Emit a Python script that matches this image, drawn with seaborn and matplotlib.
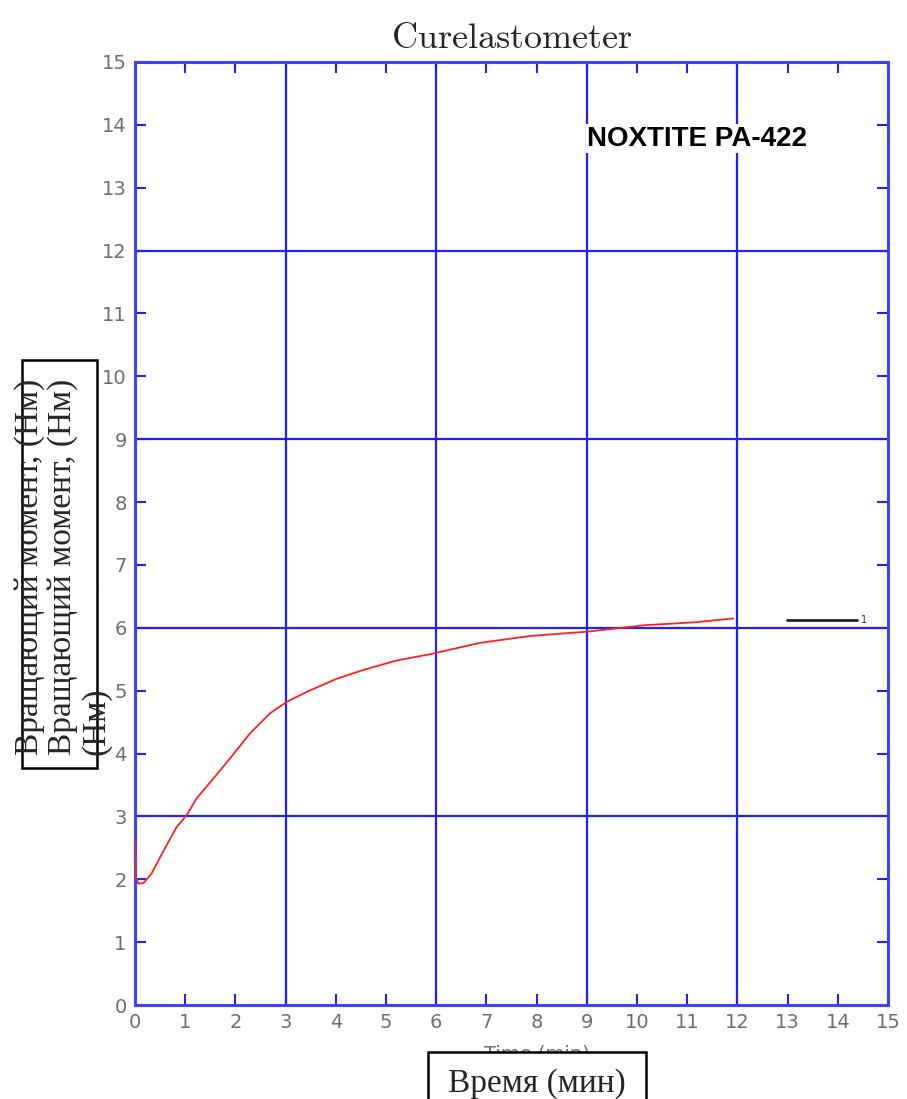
import matplotlib
matplotlib.use("Agg")
import matplotlib.pyplot as plt
from matplotlib.lines import Line2D
from matplotlib.patches import Rectangle
import seaborn as sns
import pandas as pd

# curve (time in min, torque in Nm)
time_min = [0.0, 0.02, 0.07, 0.17, 0.33, 0.56, 0.83, 1.03, 1.23, 1.56, 1.89,
            2.29, 2.69, 3.02, 3.42, 4.02, 4.55, 5.21, 5.88, 6.87, 7.87, 9.03,
            10.13, 11.19, 11.92]
torque_nm = [2.65, 2.03, 1.93, 1.94, 2.09, 2.44, 2.83, 3.02, 3.29, 3.60, 3.92,
             4.32, 4.64, 4.82, 4.98, 5.19, 5.33, 5.48, 5.58, 5.76, 5.87, 5.94,
             6.04, 6.09, 6.15]
ticks = list(range(0, 16))
grid_ticks = [0, 3, 6, 9, 12, 15]

df = pd.DataFrame({'time': time_min, 'torque': torque_nm})

sns.set_style('white')
plt.rcParams['mathtext.fontset'] = 'cm'

fig = plt.figure(figsize=(9.07, 10.99), dpi=100)
ax = fig.add_axes([0.1488, 0.0855, 0.8302, 0.8581])

blue = '#1f1fff'
for v in grid_ticks[1:-1]:
    ax.axvline(v, color=blue, lw=1.6, zorder=1)
    ax.axhline(v, color=blue, lw=1.6, zorder=1)

sns.lineplot(data=df, x='time', y='torque', color='#ff2020', lw=1.3,
             sort=False, estimator=None, ax=ax, zorder=3)

ax.set_xlim(0, 15)
ax.set_ylim(0, 15)
ax.set_xticks(ticks)
ax.set_yticks(ticks)
ax.tick_params(direction='in', length=8, width=1.5, color=blue,
               bottom=True, left=True, top=True, right=True,
               labelsize=14, labelcolor='#6e6e6e', pad=6)
for s in ax.spines.values():
    s.set_color('#4040ff')
    s.set_linewidth(2.2)
ax.set_xlabel('')
ax.set_ylabel('')

ax.set_title(r'$\mathrm{Curelastometer}$', fontsize=26, pad=10)

ax.text(11.2, 13.78, 'NOXTITE PA-422', fontsize=20, fontweight='bold',
        family='Liberation Sans', color='black', ha='center', va='center',
        zorder=4, bbox=dict(facecolor='white', edgecolor='none', pad=1))

ax.legend(handles=[Line2D([], [], color='#222222', lw=2)], labels=['1'],
          loc='center left', bbox_to_anchor=(0.866, 0.408), frameon=False,
          fontsize=7, handlelength=7.2, handletextpad=0.4,
          borderpad=0, borderaxespad=0)

# original labels, mostly hidden behind the boxes
fig.text(537 / 907, 1 - 1045 / 1099, 'Time (min)', color='#6e6e6e',
         fontsize=14, ha='center', va='top', zorder=1)
fig.text(90 / 907, 1 - 567 / 1099, 'Torque (Nm)', color='#6e6e6e',
         fontsize=14, ha='center', va='center', rotation=90, zorder=1)

fig.add_artist(Rectangle((22 / 907, 1 - 768 / 1099), 75 / 907, 408 / 1099,
                         transform=fig.transFigure, facecolor='white',
                         edgecolor='black', lw=1.8, zorder=5))
fig.add_artist(Rectangle((428 / 907, 1 - 1110 / 1099), 218 / 907, 58 / 1099,
                         transform=fig.transFigure, facecolor='white',
                         edgecolor='black', lw=1.8, zorder=5))

fig.text(14 / 907, 1 - 755 / 1099,
         'Вращающий момент, (Нм)\nВращающий момент, (Нм)\n(Нм)',
         family='Liberation Serif', fontsize=24, rotation=90,
         ha='left', va='bottom', multialignment='left', linespacing=1.1,
         zorder=6)
fig.text(537 / 907, 1 - 1068 / 1099, 'Время (мин)', family='Liberation Serif',
         fontsize=24, ha='center', va='top', zorder=6)

fig.savefig('out.png', dpi=100)
